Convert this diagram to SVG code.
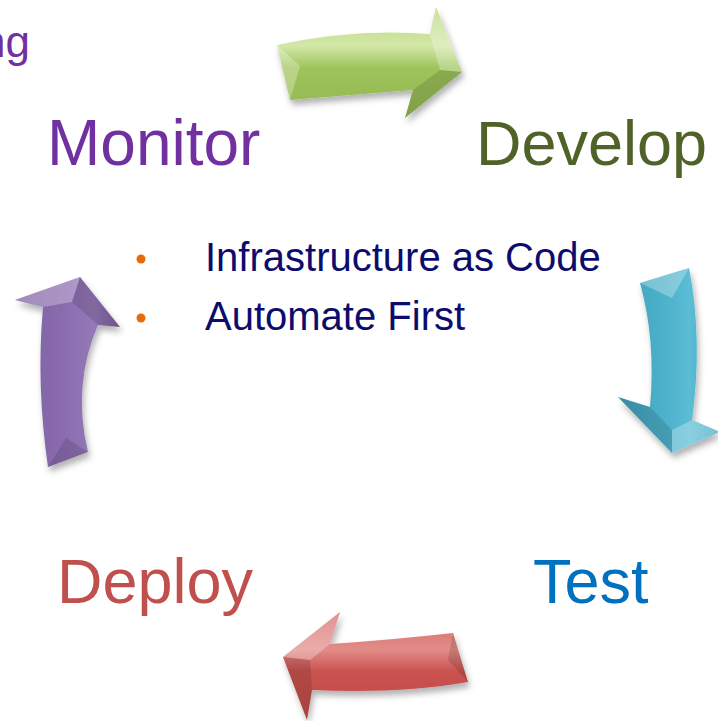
<svg xmlns="http://www.w3.org/2000/svg" width="718" height="721" viewBox="0 0 718 721">
  <style>
    .stage { font-family: "Liberation Sans", Arial, sans-serif; }
    .bullet { font-family: "Liberation Sans", Arial, sans-serif; font-size: 40px; fill: #0c0c6e; }
    .dot { fill: #e46c0a; }
    .facet-lt { fill: #ffffff; opacity: 0.28; }
    .facet-dk { fill: #000000; opacity: 0.12; }
  </style>
  <defs>
    <filter id="shadow" x="-20%" y="-20%" width="140%" height="150%">
      <feDropShadow dx="2" dy="5" stdDeviation="3" flood-color="#000" flood-opacity="0.3"/>
    </filter>
    <linearGradient id="gGreen" x1="0" y1="0" x2="0" y2="1">
      <stop offset="0" stop-color="#b7d67a"/>
      <stop offset="0.35" stop-color="#d3e8a8"/>
      <stop offset="0.55" stop-color="#9ec35a"/>
      <stop offset="1" stop-color="#93b753"/>
    </linearGradient>
    <linearGradient id="gTeal" x1="0" y1="0" x2="1" y2="0">
      <stop offset="0" stop-color="#3ea0ba"/>
      <stop offset="0.5" stop-color="#4fb3cc"/>
      <stop offset="0.7" stop-color="#5bbdd5"/>
      <stop offset="1" stop-color="#45a8c2"/>
    </linearGradient>
    <linearGradient id="gPurple" x1="0" y1="0" x2="1" y2="0">
      <stop offset="0" stop-color="#7c5fa0"/>
      <stop offset="0.5" stop-color="#8b6db0"/>
      <stop offset="0.75" stop-color="#9479b8"/>
      <stop offset="1" stop-color="#7d61a1"/>
    </linearGradient>
    <linearGradient id="gRed" x1="0" y1="0" x2="0" y2="1">
      <stop offset="0" stop-color="#d46a67"/>
      <stop offset="0.35" stop-color="#e28c88"/>
      <stop offset="0.55" stop-color="#c9524f"/>
      <stop offset="1" stop-color="#c04c49"/>
    </linearGradient>
  </defs>

  <rect width="718" height="721" fill="#ffffff"/>

  <!-- cycle arrows -->
  <g id="connectors">
    <g id="arrow-develop" filter="url(#shadow)">
      <path d="M277,45 Q355,28 430,34 L436,7 L462,72 L405,118 L413,90 Q350,95 290,100 Z" fill="url(#gGreen)"/>
      <path class="facet-lt" d="M277,45 L290,100 L300,66 Z"/>
      <path class="facet-lt" d="M436,7 L462,72 L440,70 L430,34 Z"/>
      <path class="facet-dk" d="M462,72 L405,118 L413,90 L440,70 Z"/>
    </g>
    <g id="arrow-test" filter="url(#shadow)">
      <path d="M640,283 L689,268 Q703,340 692,420 L720,432 L672,453 L618,397 L650,407 Q656,340 640,283 Z" fill="url(#gTeal)"/>
      <path class="facet-lt" d="M640,283 L689,268 L672,298 Z"/>
      <path class="facet-dk" d="M618,397 L650,407 L672,430 L672,453 Z"/>
      <path class="facet-lt" d="M692,420 L720,432 L672,453 L672,430 Z"/>
    </g>
    <g id="arrow-deploy" filter="url(#shadow)">
      <path d="M453,633 Q390,640 330,644 L340,612 L283,657 L307,720 L312,690 Q400,694 468,682 Z" fill="url(#gRed)"/>
      <path class="facet-dk" d="M453,633 L468,682 L448,660 Z"/>
      <path class="facet-lt" d="M340,612 L283,657 L310,660 L330,644 Z"/>
      <path class="facet-dk" d="M283,657 L307,720 L312,690 L310,660 Z"/>
    </g>
    <g id="arrow-monitor" filter="url(#shadow)">
      <path d="M48,467 Q36,385 43,307 L15,300 L80,277 L120,327 L98,325 Q72,385 88,452 Z" fill="url(#gPurple)"/>
      <path class="facet-lt" d="M15,300 L80,277 L72,302 L43,307 Z"/>
      <path class="facet-dk" d="M80,277 L120,327 L98,325 L72,302 Z"/>
      <path class="facet-dk" d="M48,467 L88,452 L66,438 Z"/>
    </g>
  </g>

  <!-- stage labels -->
  <g id="node-monitoring">
    <text class="stage" x="30" y="57" text-anchor="end" font-size="44" fill="#7030a0">ng</text>
  </g>
  <g id="node-monitor">
    <text class="stage" x="47" y="165" font-size="64" fill="#7030a0">Monitor</text>
  </g>
  <g id="node-develop">
    <text class="stage" x="476" y="165" font-size="63" fill="#4f6228">Develop</text>
  </g>
  <g id="node-test">
    <text class="stage" x="533" y="603" font-size="63" fill="#0070c0">Test</text>
  </g>
  <g id="node-deploy">
    <text class="stage" x="57" y="603" font-size="63" fill="#c0504d">Deploy</text>
  </g>

  <!-- principles -->
  <g id="node-principles">
    <circle class="dot" cx="141" cy="259" r="4.5"/>
    <text class="bullet" x="205" y="271">Infrastructure as Code</text>
    <circle class="dot" cx="141" cy="318" r="4.5"/>
    <text class="bullet" x="205" y="330">Automate First</text>
  </g>
</svg>
